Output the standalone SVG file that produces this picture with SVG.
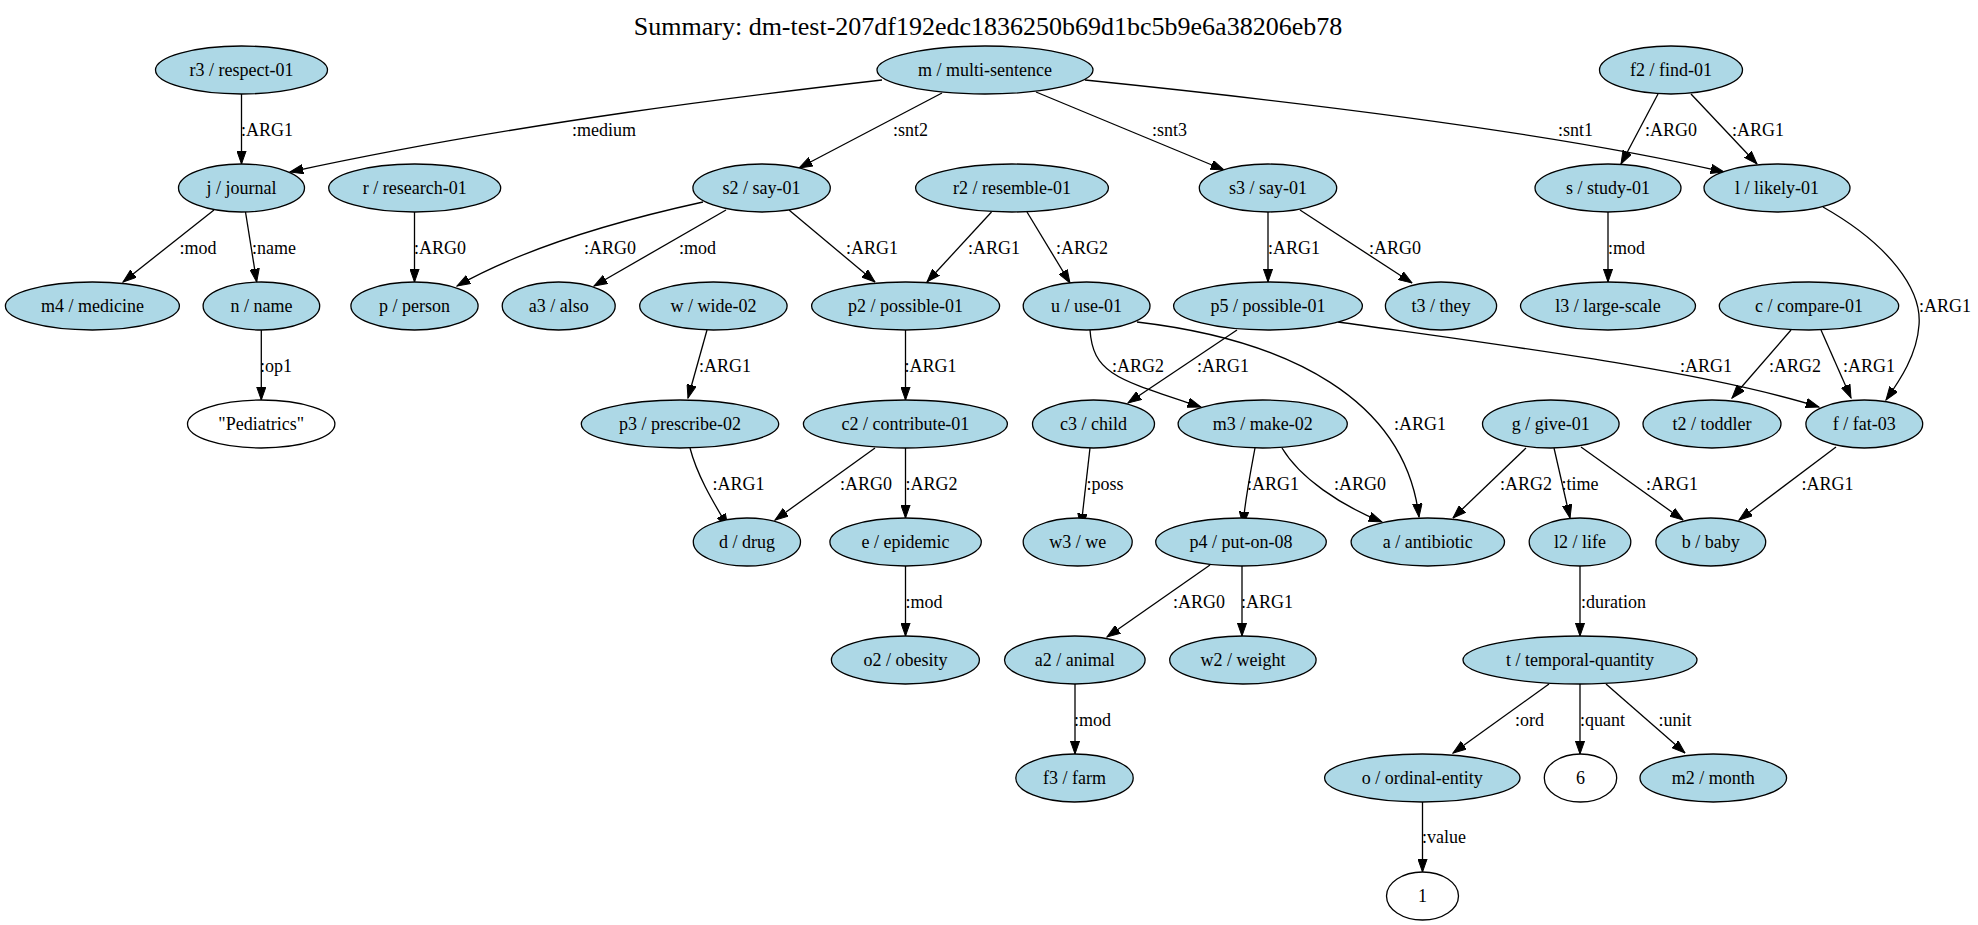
<svg xmlns="http://www.w3.org/2000/svg" width="1978" height="925" viewBox="0 0 1978 925">
  <style>
    .node ellipse { fill: #add8e6; stroke: #000; stroke-width: 1.3; }
    .node.const ellipse { fill: #fff; }
    .node text { font-family: "Liberation Serif", "Times New Roman", serif; font-size: 18px; text-anchor: middle; fill: #000; }
    .edges path { fill: none; stroke: #000; stroke-width: 1.3; marker-end: url(#arrow); }
    .labels text { font-family: "Liberation Serif", "Times New Roman", serif; font-size: 18px; fill: #000; }
    .title { font-family: "Liberation Serif", "Times New Roman", serif; font-size: 26px; text-anchor: middle; fill: #000; }
  </style>
  <defs>
    <marker id="arrow" markerUnits="userSpaceOnUse" markerWidth="14" markerHeight="10" viewBox="0 0 14 10" refX="13.3" refY="5" orient="auto">
      <path d="M0,0.3 L13.3,5 L0,9.7 Z" fill="#000" stroke="#000" stroke-width="1"/>
    </marker>
  </defs>
  <rect width="1978" height="925" fill="#fff"/>
  <text class="title" x="988" y="35">Summary: dm-test-207df192edc1836250b69d1bc5b9e6a38206eb78</text>

  <!-- connectors -->
  <g id="edges" class="edges">
    <path d="M241.5,94 L241.5,164"/>
    <path d="M882,80 C760,94 520,122 290,172"/>
    <path d="M942,93 L799,168"/>
    <path d="M1036,92 L1224,170"/>
    <path d="M1085,80 C1300,102 1560,134 1724,172"/>
    <path d="M1658,94 L1621,164"/>
    <path d="M1691,94 L1757,164"/>
    <path d="M214,210 L123,282"/>
    <path d="M245.5,212 L256.7,282"/>
    <path d="M414.5,212 L414.5,282"/>
    <path d="M703,202 C630,218 530,245 457,286"/>
    <path d="M726,210 L594,286"/>
    <path d="M789,210 L875,282"/>
    <path d="M991.5,212 L927,282"/>
    <path d="M1027,212 L1070,283"/>
    <path d="M1268,212 L1268,282"/>
    <path d="M1300,210 L1412,283"/>
    <path d="M1608,212 L1608,282"/>
    <path d="M1823,207 C1890,245 1922,290 1919,325 C1917,355 1900,380 1886,400"/>
    <path d="M261.3,330 L261.3,400"/>
    <path d="M707,330 L688,398"/>
    <path d="M905.5,330 L905.5,400"/>
    <path d="M1090,330 C1093,375 1120,380 1201,407"/>
    <path d="M1237,330 L1128,403"/>
    <path d="M1338,322 C1500,345 1700,370 1819,407"/>
    <path d="M1791,330 L1732,398"/>
    <path d="M1821,330 L1851,398"/>
    <path d="M1137,322 C1290,340 1405,400 1419,517"/>
    <path d="M690,448 C697,475 712,500 728,527"/>
    <path d="M875,448 L775,520"/>
    <path d="M905.5,448 L905.5,518"/>
    <path d="M1090,448 L1081,527"/>
    <path d="M1255,448 C1250,475 1245,500 1243,525"/>
    <path d="M1282,448 C1300,478 1340,505 1382,522"/>
    <path d="M1526,448 L1453,518"/>
    <path d="M1554,448 C1560,475 1566,500 1570,518"/>
    <path d="M1581,447 L1683,520"/>
    <path d="M1836,447 L1739,520"/>
    <path d="M905.5,566 L905.5,636"/>
    <path d="M1210,565 L1107,637"/>
    <path d="M1242,566 L1242,636"/>
    <path d="M1580,566 L1580,636"/>
    <path d="M1075,684 L1075,754"/>
    <path d="M1549,684 L1453,753"/>
    <path d="M1580,684 L1580,754"/>
    <path d="M1606,684 L1685,753"/>
    <path d="M1422.5,802 L1422.5,872"/>
  </g>

  <!-- edge labels -->
  <g id="edge-labels" class="labels">
    <text x="241" y="135.5">:ARG1</text>
    <text x="572" y="135.5">:medium</text>
    <text x="893" y="135.5">:snt2</text>
    <text x="1152" y="135.5">:snt3</text>
    <text x="1558" y="135.5">:snt1</text>
    <text x="1645" y="135.5">:ARG0</text>
    <text x="1732" y="135.5">:ARG1</text>
    <text x="179.5" y="253.5">:mod</text>
    <text x="252" y="253.5">:name</text>
    <text x="414" y="253.5">:ARG0</text>
    <text x="584" y="253.5">:ARG0</text>
    <text x="679" y="253.5">:mod</text>
    <text x="846" y="253.5">:ARG1</text>
    <text x="968" y="253.5">:ARG1</text>
    <text x="1056" y="253.5">:ARG2</text>
    <text x="1268" y="253.5">:ARG1</text>
    <text x="1369" y="253.5">:ARG0</text>
    <text x="1608" y="253.5">:mod</text>
    <text x="1919" y="312">:ARG1</text>
    <text x="260" y="372">:op1</text>
    <text x="699" y="372">:ARG1</text>
    <text x="904.5" y="372">:ARG1</text>
    <text x="1112" y="372">:ARG2</text>
    <text x="1197" y="372">:ARG1</text>
    <text x="1680" y="372">:ARG1</text>
    <text x="1769" y="372">:ARG2</text>
    <text x="1843" y="372">:ARG1</text>
    <text x="1394" y="430">:ARG1</text>
    <text x="712.5" y="489.5">:ARG1</text>
    <text x="840" y="489.5">:ARG0</text>
    <text x="905.5" y="489.5">:ARG2</text>
    <text x="1086.5" y="489.5">:poss</text>
    <text x="1247" y="489.5">:ARG1</text>
    <text x="1334" y="489.5">:ARG0</text>
    <text x="1500" y="489.5">:ARG2</text>
    <text x="1561.5" y="489.5">:time</text>
    <text x="1646" y="489.5">:ARG1</text>
    <text x="1801.5" y="489.5">:ARG1</text>
    <text x="905.5" y="607.5">:mod</text>
    <text x="1173" y="607.5">:ARG0</text>
    <text x="1241" y="607.5">:ARG1</text>
    <text x="1581" y="607.5">:duration</text>
    <text x="1074" y="725.5">:mod</text>
    <text x="1515" y="725.5">:ord</text>
    <text x="1580" y="725.5">:quant</text>
    <text x="1658.5" y="725.5">:unit</text>
    <text x="1422" y="843">:value</text>
  </g>

  <!-- nodes -->
  <g id="r3" class="node"><ellipse cx="241.5" cy="70" rx="86" ry="24"/><text x="241.5" y="76">r3 / respect-01</text></g>
  <g id="m" class="node"><ellipse cx="985" cy="70" rx="108" ry="24"/><text x="985" y="76">m / multi-sentence</text></g>
  <g id="f2" class="node"><ellipse cx="1671" cy="70" rx="71.5" ry="24"/><text x="1671" y="76">f2 / find-01</text></g>

  <g id="j" class="node"><ellipse cx="241.5" cy="188" rx="63" ry="24"/><text x="241.5" y="194">j / journal</text></g>
  <g id="r" class="node"><ellipse cx="414.7" cy="188" rx="86" ry="24"/><text x="414.7" y="194">r / research-01</text></g>
  <g id="s2" class="node"><ellipse cx="761.6" cy="188" rx="68.7" ry="24"/><text x="761.6" y="194">s2 / say-01</text></g>
  <g id="r2" class="node"><ellipse cx="1012" cy="188" rx="96.4" ry="24"/><text x="1012" y="194">r2 / resemble-01</text></g>
  <g id="s3" class="node"><ellipse cx="1268" cy="188" rx="68.7" ry="24"/><text x="1268" y="194">s3 / say-01</text></g>
  <g id="s" class="node"><ellipse cx="1608" cy="188" rx="73" ry="24"/><text x="1608" y="194">s / study-01</text></g>
  <g id="l" class="node"><ellipse cx="1777" cy="188" rx="73" ry="24"/><text x="1777" y="194">l / likely-01</text></g>

  <g id="m4" class="node"><ellipse cx="92.4" cy="306" rx="87" ry="24"/><text x="92.4" y="312">m4 / medicine</text></g>
  <g id="n" class="node"><ellipse cx="261.4" cy="306" rx="58.3" ry="24"/><text x="261.4" y="312">n / name</text></g>
  <g id="p" class="node"><ellipse cx="414.5" cy="306" rx="63.6" ry="24"/><text x="414.5" y="312">p / person</text></g>
  <g id="a3" class="node"><ellipse cx="558.7" cy="306" rx="56.5" ry="24"/><text x="558.7" y="312">a3 / also</text></g>
  <g id="w" class="node"><ellipse cx="713.4" cy="306" rx="73.7" ry="24"/><text x="713.4" y="312">w / wide-02</text></g>
  <g id="p2" class="node"><ellipse cx="905.6" cy="306" rx="94" ry="24"/><text x="905.6" y="312">p2 / possible-01</text></g>
  <g id="u" class="node"><ellipse cx="1086.6" cy="306" rx="63.4" ry="24"/><text x="1086.6" y="312">u / use-01</text></g>
  <g id="p5" class="node"><ellipse cx="1268" cy="306" rx="94.4" ry="24"/><text x="1268" y="312">p5 / possible-01</text></g>
  <g id="t3" class="node"><ellipse cx="1441" cy="306" rx="55.6" ry="24"/><text x="1441" y="312">t3 / they</text></g>
  <g id="l3" class="node"><ellipse cx="1608" cy="306" rx="87.5" ry="24"/><text x="1608" y="312">l3 / large-scale</text></g>
  <g id="c" class="node"><ellipse cx="1809" cy="306" rx="89.7" ry="24"/><text x="1809" y="312">c / compare-01</text></g>

  <g id="x1" class="node const"><ellipse cx="261.2" cy="424" rx="73.7" ry="24"/><text x="261.2" y="430">"Pediatrics"</text></g>
  <g id="p3" class="node"><ellipse cx="680" cy="424" rx="98.7" ry="24"/><text x="680" y="430">p3 / prescribe-02</text></g>
  <g id="c2" class="node"><ellipse cx="905.4" cy="424" rx="102" ry="24"/><text x="905.4" y="430">c2 / contribute-01</text></g>
  <g id="c3" class="node"><ellipse cx="1093.5" cy="424" rx="61" ry="24"/><text x="1093.5" y="430">c3 / child</text></g>
  <g id="m3" class="node"><ellipse cx="1262.7" cy="424" rx="84.6" ry="24"/><text x="1262.7" y="430">m3 / make-02</text></g>
  <g id="g" class="node"><ellipse cx="1550.8" cy="424" rx="68.3" ry="24"/><text x="1550.8" y="430">g / give-01</text></g>
  <g id="t2" class="node"><ellipse cx="1712" cy="424" rx="69" ry="24"/><text x="1712" y="430">t2 / toddler</text></g>
  <g id="f" class="node"><ellipse cx="1864.3" cy="424" rx="58.4" ry="24"/><text x="1864.3" y="430">f / fat-03</text></g>

  <g id="d" class="node"><ellipse cx="746.9" cy="542" rx="53.6" ry="24"/><text x="746.9" y="548">d / drug</text></g>
  <g id="e" class="node"><ellipse cx="905.6" cy="542" rx="75.7" ry="24"/><text x="905.6" y="548">e / epidemic</text></g>
  <g id="w3" class="node"><ellipse cx="1077.7" cy="542" rx="54.5" ry="24"/><text x="1077.7" y="548">w3 / we</text></g>
  <g id="p4" class="node"><ellipse cx="1241" cy="542" rx="85.3" ry="24"/><text x="1241" y="548">p4 / put-on-08</text></g>
  <g id="a" class="node"><ellipse cx="1427.8" cy="542" rx="76.7" ry="24"/><text x="1427.8" y="548">a / antibiotic</text></g>
  <g id="l2" class="node"><ellipse cx="1580" cy="542" rx="50.8" ry="24"/><text x="1580" y="548">l2 / life</text></g>
  <g id="b" class="node"><ellipse cx="1710.8" cy="542" rx="54.9" ry="24"/><text x="1710.8" y="548">b / baby</text></g>

  <g id="o2" class="node"><ellipse cx="905.4" cy="660" rx="74" ry="24"/><text x="905.4" y="666">o2 / obesity</text></g>
  <g id="a2" class="node"><ellipse cx="1074.8" cy="660" rx="70.3" ry="24"/><text x="1074.8" y="666">a2 / animal</text></g>
  <g id="w2" class="node"><ellipse cx="1242.9" cy="660" rx="73.2" ry="24"/><text x="1242.9" y="666">w2 / weight</text></g>
  <g id="t" class="node"><ellipse cx="1580" cy="660" rx="117" ry="24"/><text x="1580" y="666">t / temporal-quantity</text></g>

  <g id="f3" class="node"><ellipse cx="1074.5" cy="778" rx="58.7" ry="24"/><text x="1074.5" y="784">f3 / farm</text></g>
  <g id="o" class="node"><ellipse cx="1422.3" cy="778" rx="97.7" ry="24"/><text x="1422.3" y="784">o / ordinal-entity</text></g>
  <g id="x2" class="node const"><ellipse cx="1580.5" cy="778" rx="36.2" ry="24"/><text x="1580.5" y="784">6</text></g>
  <g id="m2" class="node"><ellipse cx="1713.3" cy="778" rx="73.3" ry="24"/><text x="1713.3" y="784">m2 / month</text></g>

  <g id="x3" class="node const"><ellipse cx="1422.5" cy="896" rx="36" ry="24"/><text x="1422.5" y="902">1</text></g>
</svg>
